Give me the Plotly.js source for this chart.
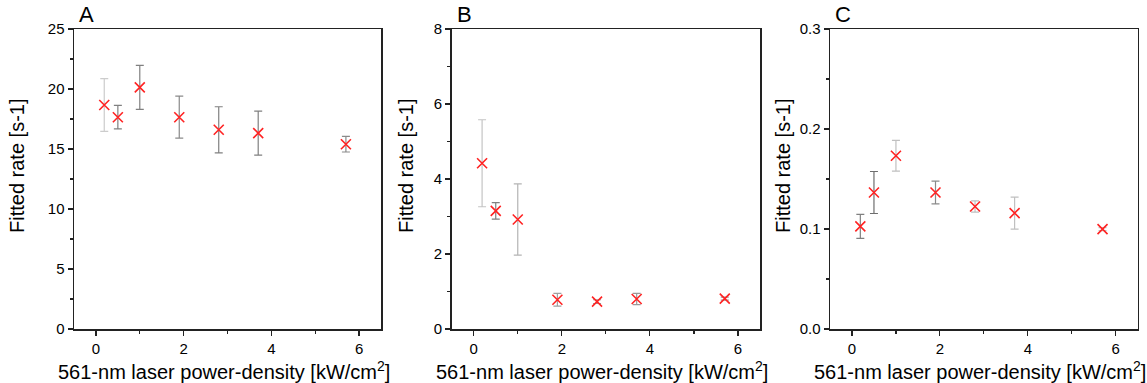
<!DOCTYPE html>
<html>
<head>
<meta charset="utf-8">
<script src="https://cdn.plot.ly/plotly-3.0.1.min.js"></script>
<style>html,body{margin:0;padding:0;background:#fff;}#chart{width:1147px;height:383px;}</style>
</head>
<body>
<div id="chart"></div>
<script>
// Data
const powerDensity = [0.19, 0.5, 1.0, 1.9, 2.8, 3.7, 5.7];
const rateA = [18.67, 17.65, 20.14, 17.65, 16.6, 16.32, 15.4];
const errA  = [2.2, 0.98, 1.83, 1.75, 1.92, 1.83, 0.65];
const errColorA = ['#cccccc', '#808080', '#808080', '#8a8a8a', '#808080', '#808080', '#8a8a8a'];
const rateB = [4.42, 3.15, 2.92, 0.78, 0.73, 0.80, 0.81];
const errB  = [1.16, 0.22, 0.95, 0.17, 0.05, 0.15, 0.04];
const errColorB = ['#c4c4c4', '#808080', '#b4b4b4', '#a0a0a0', '#999999', '#999999', '#999999'];
const rateC = [0.1026, 0.1365, 0.1732, 0.1365, 0.1225, 0.1159, 0.0999];
const errC  = [0.012, 0.021, 0.0154, 0.0113, 0.0057, 0.016, 0.0015];
const errColorC = ['#808080', '#6e6e6e', '#c0c0c0', '#8a8a8a', '#c0c0c0', '#c0c0c0', '#c0c0c0'];
const panelLabels = ['A', 'B', 'C'];
const yTitle = 'Fitted rate [s-1]';
const xTitle = '561-nm laser power-density [kW/cm<sup>2</sup>]';

const W = 1147, H = 383;
const panels = [
  {rates: rateA, errs: errA, cols: errColorA, x0: 74, x1: 381, yr: [0, 25], dt: 5, minor: 2.5, fmt: ''},
  {rates: rateB, errs: errB, cols: errColorB, x0: 451.7, x1: 760, yr: [0, 8], dt: 2, minor: 1, fmt: ''},
  {rates: rateC, errs: errC, cols: errColorC, x0: 830, x1: 1137.7, yr: [0, 0.3], dt: 0.1, minor: 0.05, fmt: '.1f'}
];
const yTop = 29, yBot = 329;
const traces = [];
const layout = {
  width: W, height: H,
  margin: {l: 0, r: 0, t: 0, b: 0},
  paper_bgcolor: '#fff', plot_bgcolor: '#fff',
  showlegend: false,
  font: {family: 'Liberation Sans, Arial, sans-serif', color: '#000', size: 15},
  annotations: []
};
panels.forEach((p, i) => {
  const sfx = i === 0 ? '' : String(i + 1);
  powerDensity.forEach((xv, j) => {
    traces.push({
      type: 'scatter', mode: 'markers',
      x: [xv], y: [p.rates[j]],
      xaxis: 'x' + sfx, yaxis: 'y' + sfx,
      marker: {symbol: 'x-thin', size: 10, color: 'rgb(255,35,35)', line: {width: 1.6, color: 'rgb(255,35,35)'}},
      error_y: {type: 'data', array: [p.errs[j]], visible: true, color: p.cols[j], thickness: 1.2, width: 4},
      hoverinfo: 'x+y'
    });
  });
  const axCommon = {
    showline: true, linecolor: '#222', linewidth: 1.5, mirror: true,
    ticks: 'outside', ticklen: 5, tickwidth: 1.2, tickcolor: '#222',
    showgrid: false, zeroline: false,
    tickfont: {size: 15, family: 'Liberation Sans, Arial, sans-serif', color: '#000'}
  };
  layout['xaxis' + sfx] = Object.assign({}, axCommon, {
    domain: [p.x0 / W, p.x1 / W], range: [-0.5, 6.5], tick0: 0, dtick: 2,
    anchor: 'y' + sfx,
    minor: {dtick: 1, tick0: 0, ticks: 'outside', ticklen: 3, tickwidth: 1.2, tickcolor: '#222'}
  });
  layout['yaxis' + sfx] = Object.assign({}, axCommon, {
    domain: [(H - yBot) / H, (H - yTop) / H], range: p.yr, tick0: 0, dtick: p.dt,
    tickformat: p.fmt, anchor: 'x' + sfx,
    minor: {dtick: p.minor, tick0: 0, ticks: 'outside', ticklen: 3, tickwidth: 1.2, tickcolor: '#222'}
  });
  // panel letter
  layout.annotations.push({
    text: panelLabels[i], xref: 'paper', yref: 'paper',
    x: (p.x0 + 3) / W, y: (H - 15) / H, xanchor: 'left', yanchor: 'middle',
    showarrow: false, font: {size: 22, family: 'Liberation Sans, Arial, sans-serif', color: '#000'}
  });
  // y title
  const yTitleX = [17, 406, 783][i];
  layout.annotations.push({
    text: yTitle, xref: 'paper', yref: 'paper', textangle: -90,
    x: yTitleX / W, y: (H - 166) / H, xanchor: 'center', yanchor: 'middle',
    showarrow: false, font: {size: 20, family: 'Liberation Sans, Arial, sans-serif', color: '#000'}
  });
  // x title
  layout.annotations.push({
    text: xTitle, xref: 'paper', yref: 'paper',
    x: ((p.x0 + p.x1) / 2 - 4) / W, y: (H - 370) / H, xanchor: 'center', yanchor: 'middle',
    showarrow: false, font: {size: 20, family: 'Liberation Sans, Arial, sans-serif', color: '#000'}
  });
});
Plotly.newPlot('chart', traces, layout, {displayModeBar: false, staticPlot: true});
</script>
</body>
</html>
